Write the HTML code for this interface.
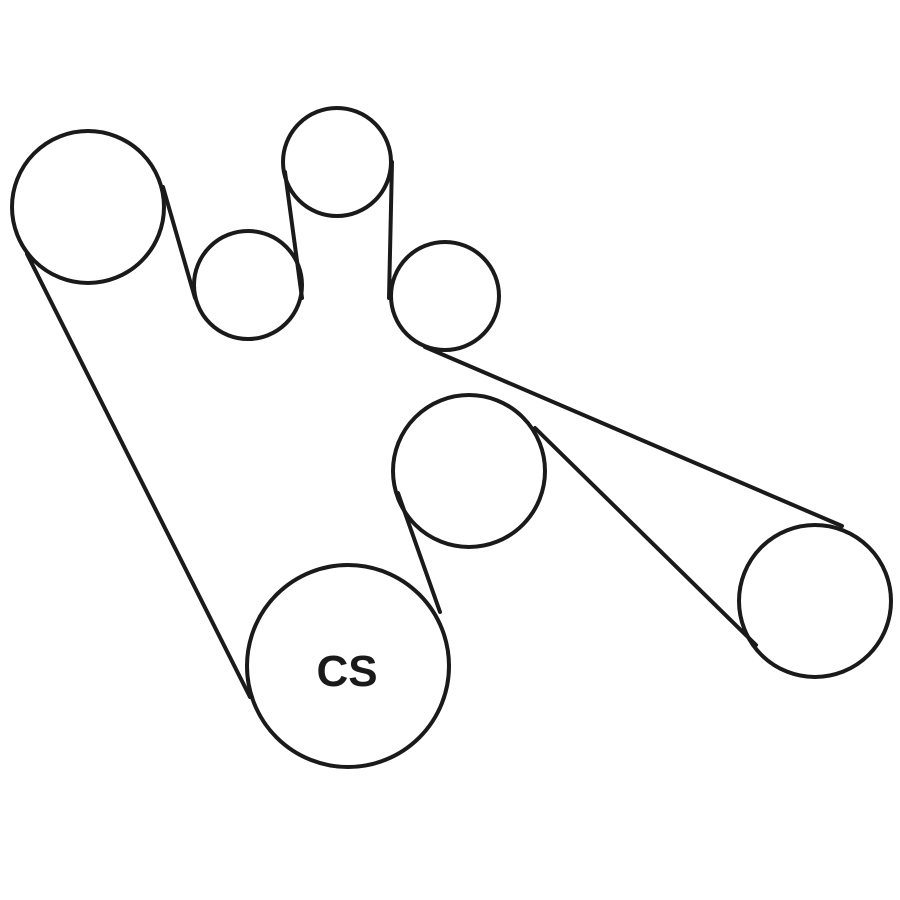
<!DOCTYPE html>
<html><head><meta charset="utf-8"><style>html,body{margin:0;padding:0;background:#fff}svg{display:block}</style></head>
<body>
<svg width="900" height="900" viewBox="0 0 900 900" xmlns="http://www.w3.org/2000/svg">
<g fill="none" stroke="#1a1a1a" stroke-width="4" stroke-linecap="round">
<circle cx="88" cy="207" r="76"/>
<circle cx="248" cy="285" r="54"/>
<circle cx="337" cy="162" r="54"/>
<circle cx="445" cy="296" r="54"/>
<circle cx="469" cy="471" r="76"/>
<circle cx="348" cy="666" r="101"/>
<circle cx="815" cy="601" r="76"/>
<line x1="27" y1="254" x2="250" y2="697"/>
<line x1="163" y1="187" x2="195" y2="298"/>
<line x1="285" y1="172" x2="302" y2="298"/>
<line x1="392" y1="162" x2="389" y2="298"/>
<line x1="425" y1="347" x2="842" y2="526"/>
<line x1="535" y1="428" x2="756" y2="645"/>
<line x1="398" y1="493" x2="440" y2="612"/>
</g>
<text x="347" y="686" text-anchor="middle" font-family="Liberation Sans, sans-serif" font-weight="bold" font-size="44" fill="#1a1a1a">CS</text>
</svg>
</body></html>
